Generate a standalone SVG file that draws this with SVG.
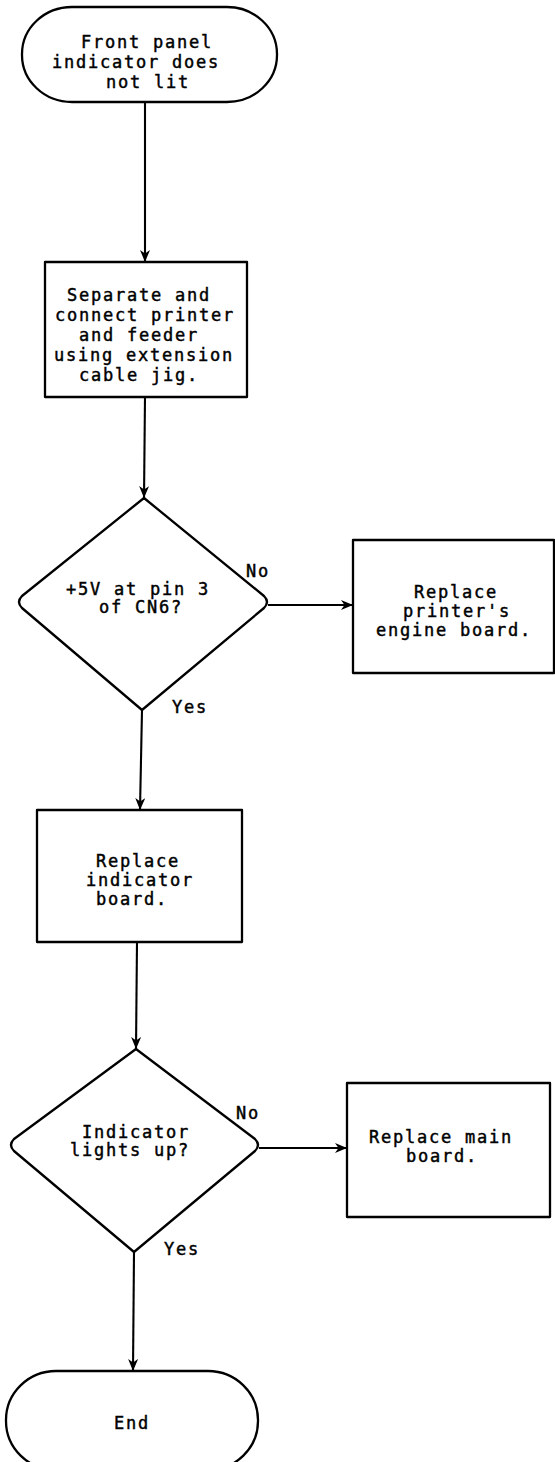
<svg xmlns="http://www.w3.org/2000/svg" width="555" height="1462" viewBox="0 0 555 1462">
  <defs>
    <marker id="arrow" viewBox="0 0 12 10" refX="12" refY="5" markerWidth="12" markerHeight="10" markerUnits="userSpaceOnUse" orient="auto">
      <path d="M0,0 L12,5 L0,10 L3.5,5 Z" fill="#000"/>
    </marker>
    <style>
      .shape { fill: #fff; stroke: #000; stroke-width: 2.3; stroke-linejoin: round; }
      .edge { fill: none; stroke: #000; stroke-width: 2.1; marker-end: url(#arrow); }
      .label { font-family: "DejaVu Sans Mono", "Liberation Mono", monospace; font-size: 17px; letter-spacing: 1.77px; fill: #000; stroke: #000; stroke-width: 0.45px; }
    </style>
  </defs>
  <rect width="555" height="1462" fill="#fff"/>

  <g id="connectors">
    <path class="edge" d="M145,102 L145,262"/>
    <path class="edge" d="M145,397 L144,498"/>
    <path class="edge" d="M268,605 L353,605"/>
    <path class="edge" d="M142,710 L140,810"/>
    <path class="edge" d="M137,942 L136,1049"/>
    <path class="edge" d="M259,1148 L347,1148"/>
    <path class="edge" d="M134,1252 L133,1371"/>
  </g>

  <g id="start">
    <rect class="shape" x="22" y="7" width="255" height="95" rx="50" ry="47"/>
    <text class="label" x="81" y="48">Front panel</text>
    <text class="label" x="52" y="68">indicator does</text>
    <text class="label" x="106" y="88">not lit</text>
  </g>

  <g id="separate">
    <rect class="shape" x="45" y="262" width="202" height="135"/>
    <text class="label" x="67" y="301">Separate and</text>
    <text class="label" x="55" y="321">connect printer</text>
    <text class="label" x="79" y="341">and feeder</text>
    <text class="label" x="54" y="361">using extension</text>
    <text class="label" x="79" y="381">cable jig.</text>
  </g>

  <g id="check-5v">
    <path class="shape" d="M144,498 L264,596 Q270,602 264,608 L142,710 L22,608 Q16,602 22,596 Z"/>
    <text class="label" x="66" y="595">+5V at pin 3</text>
    <text class="label" x="99" y="613">of CN6?</text>
    <text class="label" x="246" y="577">No</text>
    <text class="label" x="172" y="713">Yes</text>
  </g>

  <g id="replace-engine">
    <rect class="shape" x="353" y="540" width="201" height="133"/>
    <text class="label" x="414" y="598">Replace</text>
    <text class="label" x="403" y="617">printer's</text>
    <text class="label" x="376" y="636">engine board.</text>
  </g>

  <g id="replace-indicator">
    <rect class="shape" x="37" y="810" width="205" height="132"/>
    <text class="label" x="96" y="867">Replace</text>
    <text class="label" x="86" y="886">indicator</text>
    <text class="label" x="96" y="905">board.</text>
  </g>

  <g id="check-lights">
    <path class="shape" d="M136,1049 L255,1139 Q261,1145 255,1151 L134,1252 L14,1151 Q8,1145 14,1139 Z"/>
    <text class="label" x="82" y="1138">Indicator</text>
    <text class="label" x="70" y="1156">lights up?</text>
    <text class="label" x="236" y="1119">No</text>
    <text class="label" x="164" y="1255">Yes</text>
  </g>

  <g id="replace-main">
    <rect class="shape" x="347" y="1083" width="203" height="134"/>
    <text class="label" x="369" y="1143">Replace main</text>
    <text class="label" x="406" y="1162">board.</text>
  </g>

  <g id="end">
    <rect class="shape" x="6" y="1371" width="252" height="99" rx="50" ry="49"/>
    <text class="label" x="114" y="1429">End</text>
  </g>
</svg>
